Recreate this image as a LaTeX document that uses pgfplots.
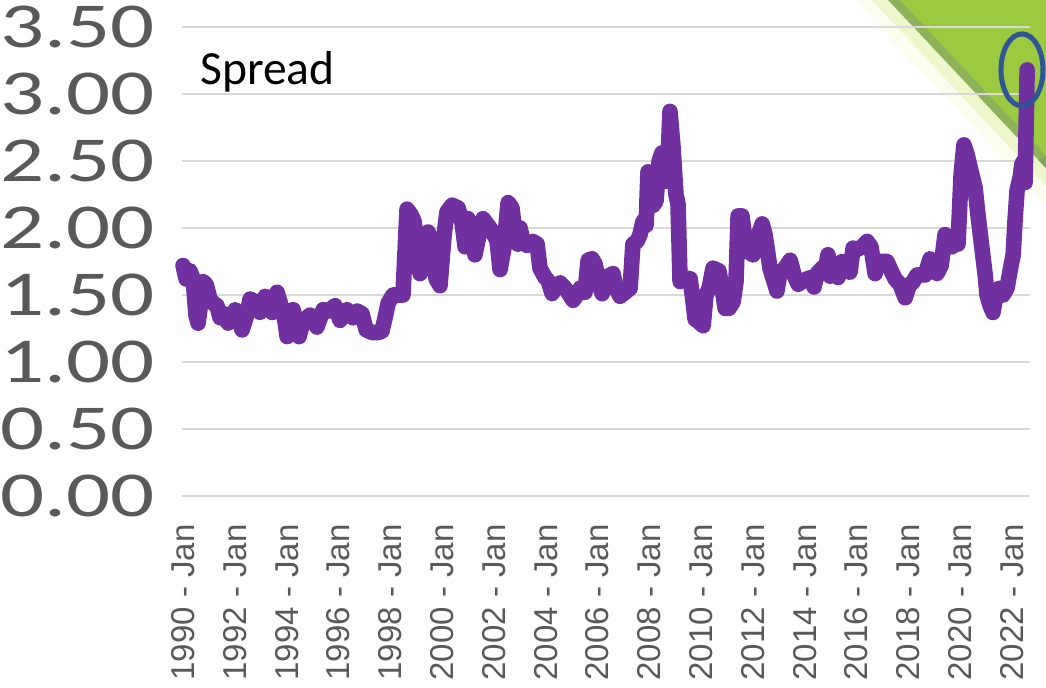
\documentclass[border=0pt]{standalone}
\usepackage{pgfplots}
\pgfplotsset{compat=1.18}
\usepackage{fontspec}
\setmainfont{Carlito}
\newfontfamily\xfont{Liberation Sans}
\newfontfamily\yfont[FakeStretch=1.36]{Carlito}
\definecolor{spreadpurple}{HTML}{7030A0}
\definecolor{tickgrey}{HTML}{595959}
\definecolor{gridgrey}{HTML}{D9D9D9}
\definecolor{circleblue}{HTML}{2F5597}
\definecolor{fadeA}{HTML}{FBFDEE}
\definecolor{fadeB}{HTML}{EEF6CC}
\definecolor{edgegreen}{HTML}{8DB25A}
\definecolor{limegreen}{HTML}{9BC93F}
\definecolor{darkgreen}{HTML}{7FA35A}

\pgfplotstableread{
year value
1990.00 1.72
1990.12 1.62
1990.27 1.68
1990.39 1.62
1990.50 1.35
1990.58 1.29
1990.69 1.45
1990.77 1.60
1990.89 1.58
1991.04 1.47
1991.16 1.44
1991.31 1.42
1991.43 1.33
1991.58 1.36
1991.74 1.29
1991.89 1.33
1992.01 1.39
1992.12 1.33
1992.28 1.24
1992.43 1.33
1992.59 1.47
1992.78 1.45
1992.97 1.37
1993.17 1.49
1993.28 1.45
1993.44 1.37
1993.63 1.52
1993.82 1.40
1993.94 1.30
1994.02 1.19
1994.13 1.30
1994.25 1.39
1994.36 1.30
1994.48 1.19
1994.63 1.30
1994.90 1.35
1995.17 1.26
1995.41 1.39
1995.60 1.38
1995.87 1.42
1996.06 1.31
1996.33 1.39
1996.56 1.33
1996.72 1.38
1996.91 1.36
1997.07 1.24
1997.30 1.22
1997.53 1.22
1997.68 1.23
1997.80 1.33
1997.92 1.44
1998.11 1.50
1998.30 1.50
1998.49 1.50
1998.65 2.14
1998.80 2.10
1998.92 2.05
1999.15 1.66
1999.31 1.75
1999.46 1.97
1999.58 1.90
1999.77 1.62
1999.92 1.57
2000.08 1.95
2000.19 2.12
2000.39 2.17
2000.62 2.15
2000.77 2.04
2000.89 1.86
2001.00 2.07
2001.16 1.95
2001.27 1.80
2001.43 1.95
2001.58 2.07
2001.85 2.00
2002.12 1.91
2002.24 1.69
2002.39 1.85
2002.55 2.19
2002.70 2.15
2002.82 1.95
2002.93 1.88
2003.01 2.00
2003.13 1.90
2003.28 1.87
2003.51 1.90
2003.67 1.88
2003.78 1.70
2003.98 1.63
2004.09 1.61
2004.25 1.51
2004.40 1.57
2004.56 1.59
2004.71 1.56
2004.83 1.53
2005.06 1.46
2005.21 1.50
2005.33 1.55
2005.52 1.52
2005.64 1.76
2005.79 1.77
2005.91 1.73
2006.06 1.58
2006.18 1.51
2006.33 1.60
2006.41 1.64
2006.60 1.66
2006.72 1.55
2006.87 1.49
2007.07 1.52
2007.26 1.55
2007.37 1.88
2007.53 1.90
2007.64 1.95
2007.76 2.05
2007.88 2.02
2007.95 2.42
2008.07 2.40
2008.15 2.17
2008.26 2.20
2008.38 2.50
2008.49 2.56
2008.61 2.35
2008.69 2.35
2008.80 2.87
2008.92 2.60
2009.03 2.25
2009.11 2.18
2009.19 1.60
2009.34 1.63
2009.58 1.62
2009.69 1.45
2009.77 1.32
2009.92 1.30
2010.08 1.27
2010.19 1.50
2010.31 1.55
2010.46 1.70
2010.69 1.68
2010.81 1.55
2010.93 1.40
2011.08 1.40
2011.24 1.45
2011.35 1.60
2011.43 2.09
2011.58 2.09
2011.70 1.90
2011.85 1.82
2012.01 1.80
2012.16 1.92
2012.36 2.03
2012.47 1.95
2012.55 1.85
2012.66 1.70
2012.82 1.60
2012.93 1.53
2013.05 1.67
2013.24 1.70
2013.44 1.76
2013.59 1.65
2013.75 1.58
2013.90 1.60
2014.09 1.62
2014.25 1.63
2014.36 1.56
2014.48 1.66
2014.67 1.70
2014.83 1.72
2014.90 1.80
2014.98 1.64
2015.14 1.66
2015.29 1.63
2015.44 1.75
2015.60 1.70
2015.75 1.67
2015.87 1.85
2016.02 1.84
2016.22 1.86
2016.41 1.90
2016.56 1.86
2016.72 1.66
2016.83 1.75
2017.03 1.75
2017.18 1.75
2017.34 1.68
2017.49 1.62
2017.68 1.58
2017.88 1.48
2018.03 1.57
2018.19 1.60
2018.34 1.65
2018.46 1.65
2018.65 1.65
2018.84 1.77
2019.00 1.72
2019.11 1.66
2019.27 1.72
2019.42 1.95
2019.58 1.90
2019.69 1.86
2019.81 1.88
2019.92 1.88
2020.04 2.40
2020.15 2.62
2020.27 2.55
2020.39 2.45
2020.58 2.30
2020.69 2.10
2020.85 1.84
2020.97 1.65
2021.04 1.50
2021.16 1.42
2021.27 1.37
2021.39 1.50
2021.51 1.55
2021.66 1.50
2021.81 1.55
2021.93 1.68
2022.05 1.80
2022.12 2.05
2022.20 2.28
2022.32 2.38
2022.39 2.48
2022.47 2.50
2022.51 2.34
2022.59 3.18
}\spreaddata

\begin{document}
\begin{tikzpicture}
% green corner decoration (behind the chart)
\fill[fadeA] (336bp,248bp) -- (432bp,248bp) -- (432bp,145bp) -- cycle;
\fill[fadeB] (345bp,248bp) -- (432bp,248bp) -- (432bp,155bp) -- cycle;
\fill[edgegreen] (353bp,248bp) -- (432bp,248bp) -- (432bp,164bp) -- cycle;
\fill[limegreen] (359bp,248bp) -- (432bp,248bp) -- (432bp,170bp) -- cycle;
\fill[darkgreen] (432bp,170bp) -- (432bp,164bp) -- (428bp,168bp) -- cycle;
\begin{axis}[
  at={(0,0)}, anchor=south west,
  scale only axis, width=424bp, height=234.5bp,
  xmin=1989.96, xmax=2022.70, ymin=0, ymax=3.5,
  clip=false,
  axis line style={draw=none},
  major tick length=0pt,
  ymajorgrids, xmajorgrids=false,
  grid style={gridgrey, line width=1bp},
  ytick={0,0.5,1,1.5,2,2.5,3,3.5},
  yticklabels={0.00,0.50,1.00,1.50,2.00,2.50,3.00,3.50},
  yticklabel style={font=\yfont\fontsize{32bp}{33bp}\selectfont, text=tickgrey, anchor=east, inner sep=0pt, xshift=-13.5bp},
  xtick={1990,1992,...,2022},
  xticklabels={1990 - Jan,1992 - Jan,1994 - Jan,1996 - Jan,1998 - Jan,2000 - Jan,2002 - Jan,2004 - Jan,2006 - Jan,2008 - Jan,2010 - Jan,2012 - Jan,2014 - Jan,2016 - Jan,2018 - Jan,2020 - Jan,2022 - Jan},
  xticklabel style={font=\xfont\fontsize{16.5bp}{18bp}\selectfont, text=tickgrey, rotate=90, anchor=east, inner sep=0pt, xshift=-14bp},
]
\addplot[spreadpurple, line width=7.8bp, line join=round, line cap=round, mark=none] table[x=year, y=value] {\spreaddata};
\draw[circleblue, line width=2.5bp] (axis cs:2022.39,3.18) ellipse [x radius=10.5bp, y radius=18bp];
\end{axis}
\node[anchor=base west, inner sep=0pt, font=\fontsize{23.8bp}{25bp}\selectfont] at (9bp,205.5bp) {Spread};
\pgfresetboundingbox
\path[use as bounding box] (-91bp,-96bp) rectangle (432bp,248bp);
\end{tikzpicture}
\end{document}
